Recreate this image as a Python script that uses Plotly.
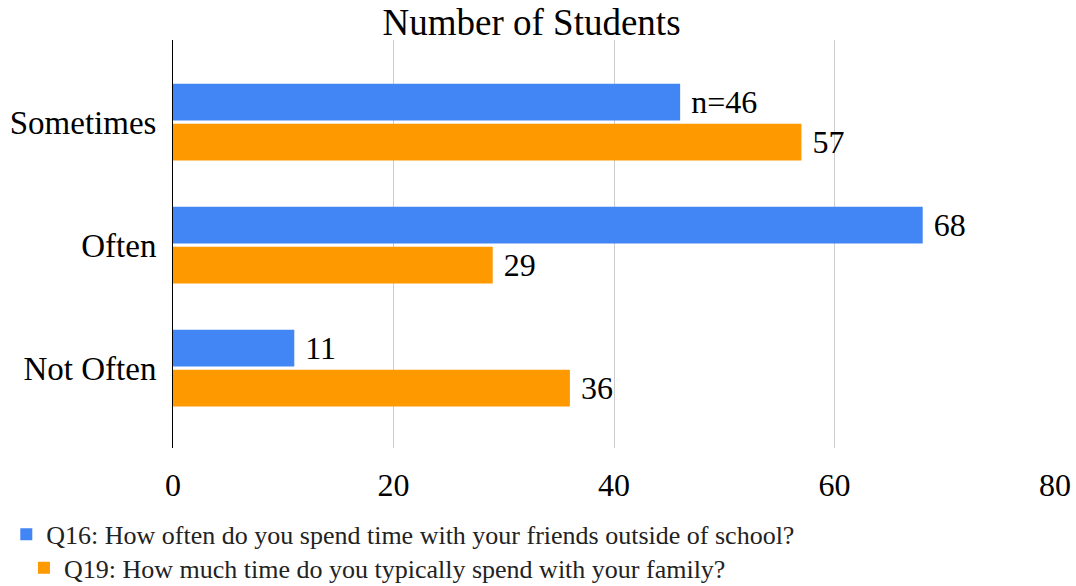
import plotly.graph_objects as go

categories = ["Not Often", "Often", "Sometimes"]
q16_name = "Q16: How often do you spend time with your friends outside of school?"
q19_name = "Q19: How much time do you typically spend with your family?"
q16_values = [11, 68, 46]
q19_values = [36, 29, 57]
q16_labels = ["11", "68", "n=46"]
q19_labels = ["36", "29", "57"]
x_ticks = [0, 20, 40, 60, 80]

FONT = "Liberation Serif, Times New Roman, serif"

fig = go.Figure()
fig.add_trace(go.Bar(
    y=categories, x=q19_values, orientation="h", name=q19_name,
    marker=dict(color="#FF9900", line=dict(width=0)),
    text=q19_labels, texttemplate=" %{text}", textposition="outside", cliponaxis=False,
    textfont=dict(family=FONT, size=32, color="#000000"),
    legend="legend2",
))
fig.add_trace(go.Bar(
    y=categories, x=q16_values, orientation="h", name=q16_name,
    marker=dict(color="#4285F4", line=dict(width=0)),
    text=q16_labels, texttemplate=" %{text}", textposition="outside", cliponaxis=False,
    textfont=dict(family=FONT, size=32, color="#000000"),
    legend="legend",
))

fig.update_layout(
    width=1076, height=586,
    margin=dict(l=173, r=21, t=40, b=138, autoexpand=False),
    paper_bgcolor="white", plot_bgcolor="white",
    font=dict(family=FONT, color="#000000"),
    title=dict(text="Number of Students", x=0.494, xanchor="center", xref="container",
               y=0.962, yanchor="middle", yref="container",
               font=dict(family=FONT, size=37, color="#000000")),
    barmode="group", bargap=0.35, bargroupgap=0.08,
    showlegend=True,
    legend=dict(x=-0.189, xref="paper", y=0.088, yref="container", yanchor="middle",
                xanchor="left",
                font=dict(family=FONT, size=26, color="#222222"),
                bgcolor="rgba(0,0,0,0)"),
    legend2=dict(x=-0.169, xref="paper", y=0.031, yref="container", yanchor="middle",
                 xanchor="left",
                 font=dict(family=FONT, size=26, color="#222222"),
                 bgcolor="rgba(0,0,0,0)"),
    xaxis=dict(range=[0, 80], tickvals=x_ticks, ticktext=[str(v) for v in x_ticks],
               showgrid=True, gridcolor="#cccccc", gridwidth=1, zeroline=False,
               showline=False, ticks="", ticklabelstandoff=15,
               tickfont=dict(family=FONT, size=32, color="#000000")),
    yaxis=dict(type="category", categoryorder="array", categoryarray=categories,
               range=[-0.65, 2.667], showline=True, linecolor="#000000", linewidth=1,
               showgrid=False, ticks="", ticklabelstandoff=9,
               tickfont=dict(family=FONT, size=33, color="#000000")),
)

fig.write_html("out.html")
